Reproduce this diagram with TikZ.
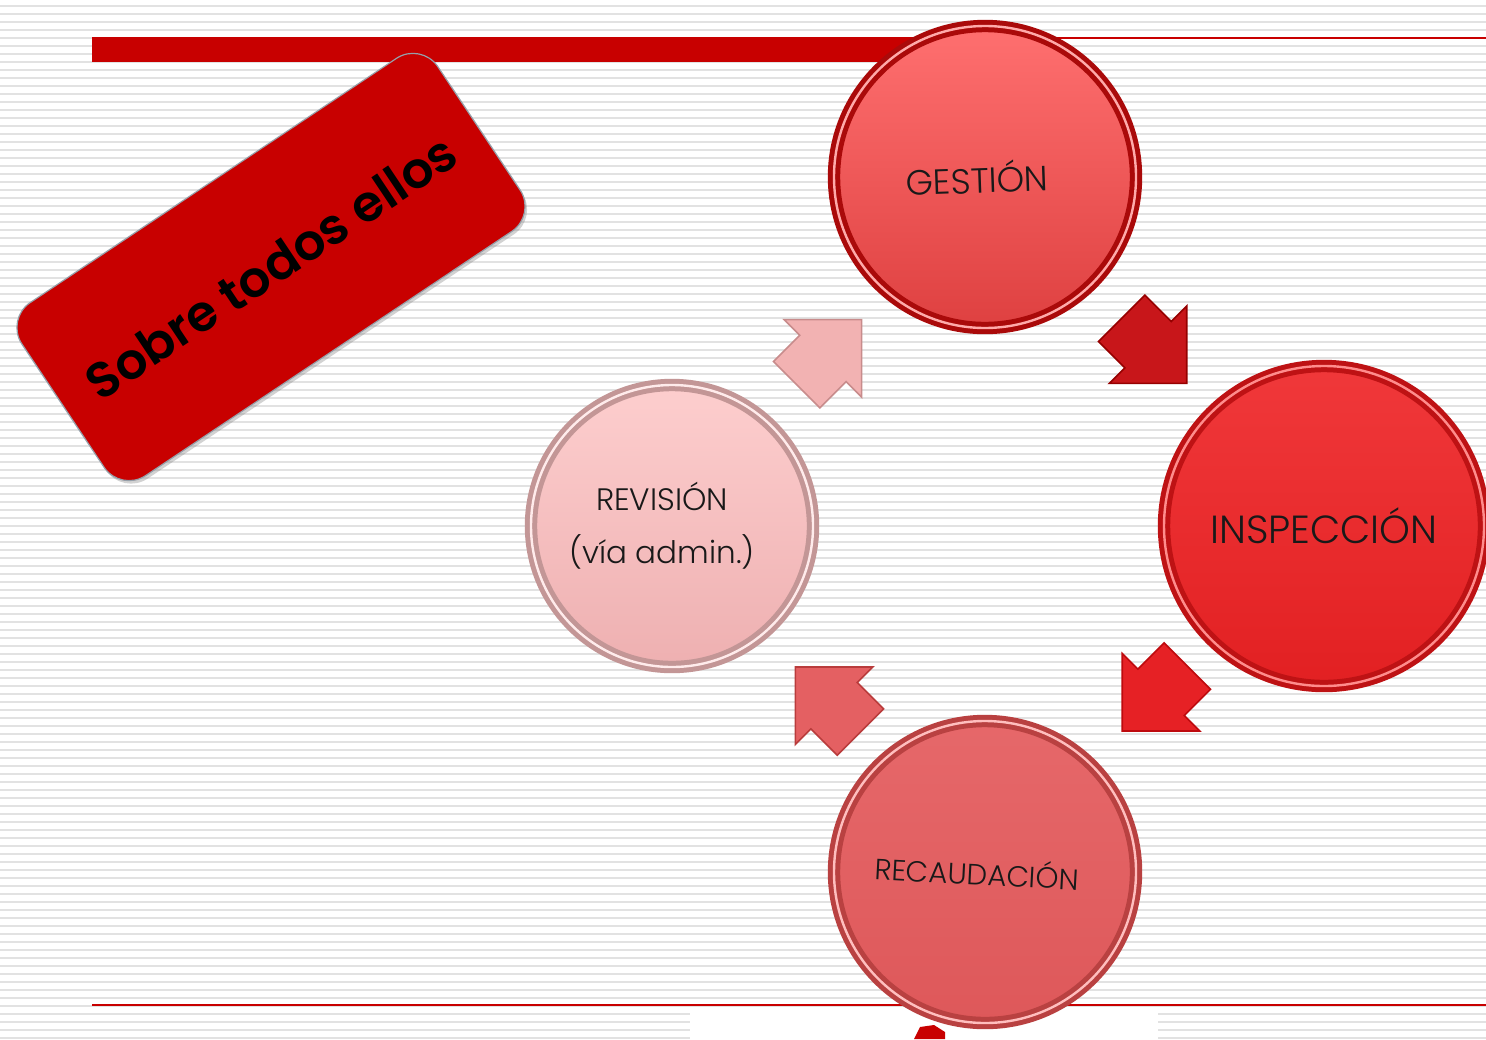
\documentclass[tikz,border=0pt]{standalone}
\usepackage{fontspec}
\setmainfont{Poppins}[BoldFont={* SemiBold}]
\newfontfamily\stagefont{Poppins}[UprightFont={* Light}]
\usepackage{tikz}
\usetikzlibrary{calc,positioning,shapes.arrows,shadows}
\definecolor{barred}{RGB}{200,0,0}
\definecolor{stripegray}{RGB}{226,226,226}
\definecolor{boxedge}{RGB}{150,160,170}
\definecolor{gestiontop}{RGB}{255,112,112}
\definecolor{gestionbot}{RGB}{222,64,64}
\definecolor{gestionrim}{RGB}{170,10,10}
\definecolor{gestionhi}{RGB}{255,170,170}
\definecolor{insptop}{RGB}{240,56,58}
\definecolor{inspbot}{RGB}{226,32,34}
\definecolor{insprim}{RGB}{190,18,20}
\definecolor{insphi}{RGB}{255,140,140}
\definecolor{recaudtop}{RGB}{230,104,106}
\definecolor{recaudbot}{RGB}{222,88,90}
\definecolor{recaudrim}{RGB}{185,65,65}
\definecolor{recaudhi}{RGB}{255,190,190}
\definecolor{revtop}{RGB}{253,206,206}
\definecolor{revbot}{RGB}{238,176,177}
\definecolor{revrim}{RGB}{195,150,150}
\definecolor{revhi}{RGB}{255,235,235}
\definecolor{arrowone}{RGB}{200,22,26}
\definecolor{arrowonerim}{RGB}{150,0,0}
\definecolor{arrowtwo}{RGB}{230,33,37}
\definecolor{arrowtworim}{RGB}{190,10,14}
\definecolor{arrowthree}{RGB}{228,96,98}
\definecolor{arrowthreerim}{RGB}{185,60,60}
\definecolor{arrowfour}{RGB}{242,178,178}
\definecolor{arrowfourrim}{RGB}{200,140,140}
\tikzstyle{stripe}=[draw=stripegray,line width=1.3pt]
\tikzstyle{stage}=[circle,inner sep=0pt,text=black!90,align=center,line width=2.5pt,double distance=1.2pt,shading angle=20,drop shadow={opacity=0.25,shadow xshift=1.5pt,shadow yshift=-2pt}]
\tikzstyle{flowarrow}=[single arrow,single arrow tip angle=90,single arrow head extend=11pt,inner xsep=0pt,inner ysep=16pt,minimum height=46pt,line width=0.8pt]
\tikzstyle{notebox}=[rectangle,rounded corners=15pt,fill=barred,draw=boxedge,line width=0.6pt,minimum width=250pt,minimum height=104pt,font=\bfseries\fontsize{25}{30}\selectfont,drop shadow={opacity=0.35,shadow xshift=1pt,shadow yshift=-1.5pt}]

\begin{document}
\begin{tikzpicture}[x=0.5pt,y=-0.5pt]
\useasboundingbox (0,0) rectangle (1486,1039);
\fill[white] (0,0) rectangle (1486,1039);
\def\arrowpos{0.465}

    \foreach \yy in {6,14,...,1038}
        \draw[stripe] (0,\yy) -- (1486,\yy);
    \fill[white] (690,1012) rectangle (1158,1039);

    % header and footer rules
    \fill[barred] (92,38) rectangle (950,62);
    \draw[barred, line width=1pt] (92,38) -- (1486,38);
    \draw[barred, line width=0.8pt] (92,1005) -- (1486,1005);
    \fill[barred] (914,1039) -- (920,1027) -- (934,1025) -- (945,1032) -- (945,1039) -- cycle;

    \node[notebox, rotate=33.7] (todos) at (271,267) {Sobre todos ellos};

    \node[stage, minimum size=151pt, draw=gestionrim, double=gestionhi, top color=gestiontop, bottom color=gestionbot,
        rotate=2, font=\stagefont\fontsize{17.5}{21}\selectfont] (gestion) at (985,177) {GESTIÓN\hspace*{8pt}};
    \node[stage, minimum size=160pt, draw=insprim, double=insphi, top color=insptop, bottom color=inspbot,
        font=\stagefont\fontsize{19.6}{23}\selectfont] (inspeccion) at (1324,526) {INSPECCIÓN};
    \node[stage, minimum size=151pt, draw=recaudrim, double=recaudhi, top color=recaudtop, bottom color=recaudbot,
        rotate=-3, font=\stagefont\fontsize{14.6}{17}\selectfont] (recaudacion) at (985,872) {RECAUDACIÓN\hspace*{8pt}};
    \node[stage, minimum size=141pt, draw=revrim, double=revhi, top color=revtop, bottom color=revbot,
        font=\stagefont\fontsize{15.5}{26.5}\selectfont] (revision) at (672,526) {REVISIÓN\hspace*{10pt}\\(vía admin.)\hspace*{10pt}};

    \node[flowarrow, fill=arrowone, draw=arrowonerim, rotate=-45] (gesttoinsp) at ($(gestion)!\arrowpos!(inspeccion)$) {};
    \node[flowarrow, fill=arrowtwo, draw=arrowtworim, rotate=-135] (insptorec) at ($(inspeccion)!\arrowpos!(recaudacion)$) {};
    \node[flowarrow, fill=arrowthree, draw=arrowthreerim, rotate=135] (rectorev) at ($(recaudacion)!\arrowpos!(revision)$) {};
    \node[flowarrow, fill=arrowfour, draw=arrowfourrim, rotate=45] (revtogest) at ($(revision)!\arrowpos!(gestion)$) {};
\end{tikzpicture}
\end{document}
